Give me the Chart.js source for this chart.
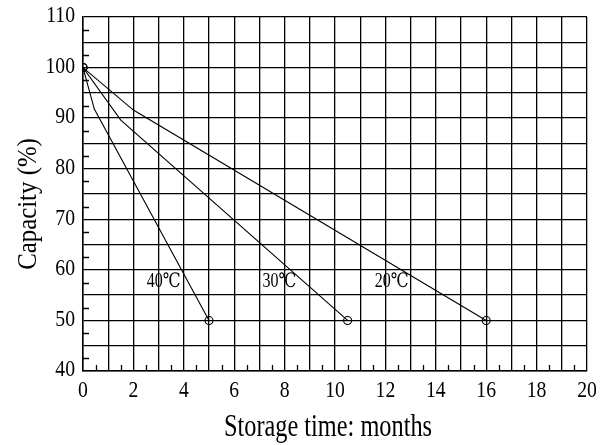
<!DOCTYPE html>
<html>
<head>
<meta charset="utf-8">
<script src="https://cdn.jsdelivr.net/npm/chart.js@4.4.0/dist/chart.umd.min.js"></script>
<style>
html,body{margin:0;padding:0;background:#fff;}
#wrap{width:612px;height:445px;position:relative;}
</style>
</head>
<body>
<div id="wrap"><canvas id="c" width="612" height="445"></canvas></div>
<script>
// Data
const seriesNames = ["40℃", "30℃", "20℃"];
const x40 = [0, 0.45, 5.0];
const y40 = [100, 91.8, 50];
const x30 = [0, 1.5, 10.5];
const y30 = [100, 89.6, 50];
const x20 = [0, 2, 16.0];
const y20 = [100, 91.6, 50];
const labelX = [3.2, 7.8, 12.25];
const labelY = [57.6, 57.6, 57.6];
const xTicks = [0, 2, 4, 6, 8, 10, 12, 14, 16, 18, 20];
const yTicks = [40, 50, 60, 70, 80, 90, 100, 110];
const xTitle = "Storage time: months";
const yTitle = "Capacity (%)";

function pts(xs, ys){ return xs.map((x,i)=>({x:x, y:ys[i]})); }
function radii(n){ return Array.from({length:n},(_,i)=> (i===0||i===n-1)?4:0); }

const serif = "'Liberation Serif','DejaVu Serif','Times New Roman',serif";

const dataSets = [[x40,y40],[x30,y30],[x20,y20]].map((d,k)=>({
  label: seriesNames[k],
  data: pts(d[0], d[1]),
  borderColor: '#000',
  borderWidth: 1.1,
  pointRadius: radii(d[0].length),
  pointBorderColor: '#000',
  pointBackgroundColor: 'rgba(0,0,0,0)',
  pointBorderWidth: 1.1,
  showLine: true,
  tension: 0
}));

// draw condensed text (sx = horizontal squeeze along the text direction)
function txt(ctx, s, x, y, size, sx, align, base, rot){
  ctx.save();
  ctx.translate(x, y);
  if (rot) ctx.rotate(rot);
  ctx.scale(sx, 1);
  ctx.font = size + "px " + serif;
  ctx.textAlign = align;
  ctx.textBaseline = base;
  ctx.fillStyle = '#000';
  ctx.fillText(s, 0, 0);
  ctx.restore();
}

const extras = {
  id: 'extras',
  afterDraw(chart){
    const ctx = chart.ctx, xs = chart.scales.x, ys = chart.scales.y;
    const a = chart.chartArea;
    ctx.save();
    ctx.strokeStyle = '#000';
    ctx.lineWidth = 1.3;
    ctx.beginPath();
    for (let v = 0.5; v < 20; v += 1){
      const px = Math.round(xs.getPixelForValue(v)) + 0.5;
      ctx.moveTo(px, a.bottom); ctx.lineTo(px, a.bottom - 6);
    }
    for (let v = 42.5; v < 110; v += 5){
      const py = Math.round(ys.getPixelForValue(v)) + 0.5;
      ctx.moveTo(a.left, py); ctx.lineTo(a.left + 6, py);
    }
    ctx.stroke();
    ctx.restore();
    // tick labels
    yTicks.forEach(v => txt(ctx, String(v), a.left - 8, ys.getPixelForValue(v) - 1, 24, 0.82, 'right', 'middle'));
    xTicks.forEach(v => txt(ctx, String(v), xs.getPixelForValue(v), a.bottom + 20, 24, 0.82, 'center', 'middle'));
    // axis titles
    txt(ctx, xTitle, (a.left + a.right) / 2 - 7, 436, 32, 0.76, 'center', 'alphabetic');
    txt(ctx, yTitle, 36, 204, 27, 0.92, 'center', 'alphabetic', -Math.PI / 2);
    // series labels
    for (let i = 0; i < seriesNames.length; i++){
      txt(ctx, seriesNames[i], xs.getPixelForValue(labelX[i]), ys.getPixelForValue(labelY[i]), 20, 0.8, 'center', 'middle');
    }
  }
};

new Chart(document.getElementById('c'), {
  type: 'scatter',
  data: { datasets: dataSets },
  options: {
    responsive: false,
    animation: false,
    layout: { padding: { left: 0, right: 25, top: 17, bottom: 0 } },
    plugins: { legend: { display: false }, tooltip: { enabled: false } },
    scales: {
      x: {
        type: 'linear', min: 0, max: 20,
        afterFit(s){ s.height = 74; },
        ticks: { stepSize: 1, autoSkip: false, display: false, maxRotation: 0 },
        grid: { color: '#000', lineWidth: 1.3, drawTicks: false },
        border: { color: '#000', width: 1.5 }
      },
      y: {
        type: 'linear', min: 40, max: 110,
        afterFit(s){ s.width = 83; },
        ticks: { stepSize: 5, autoSkip: false, display: false },
        grid: { color: '#000', lineWidth: 1.3, drawTicks: false },
        border: { color: '#000', width: 1.5 }
      }
    }
  },
  plugins: [extras]
});
</script>
</body>
</html>
